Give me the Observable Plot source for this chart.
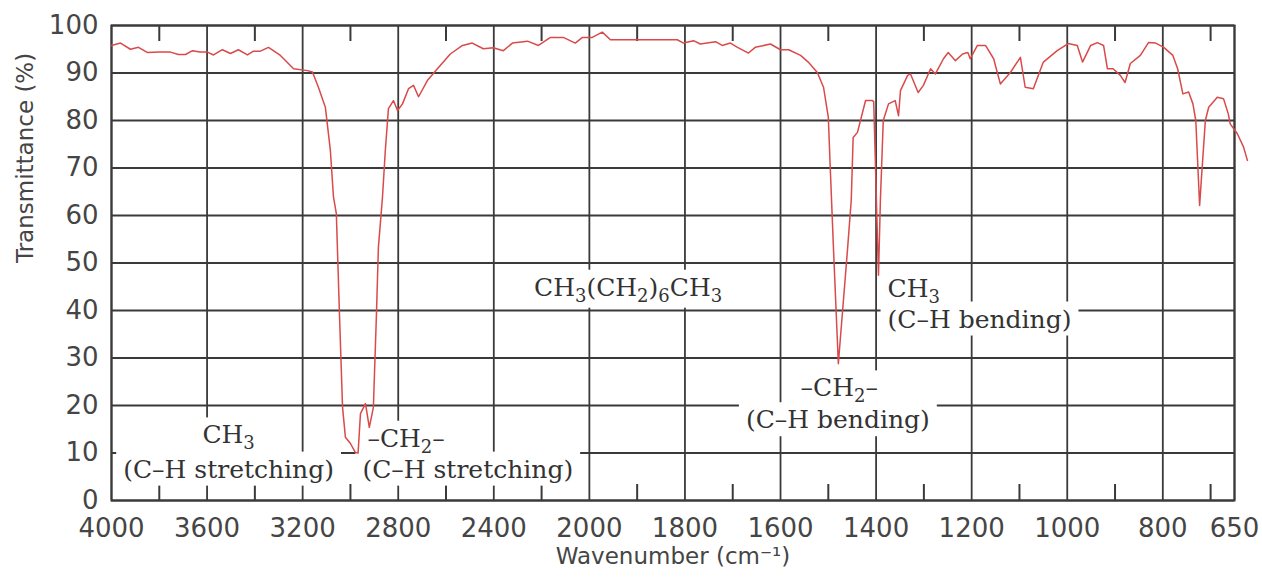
<!DOCTYPE html>
<html>
<head>
<meta charset="utf-8">
<script src="https://cdn.jsdelivr.net/npm/d3@7"></script>
<script src="https://cdn.jsdelivr.net/npm/@observablehq/plot@0.6"></script>
<style>
  html, body { margin: 0; padding: 0; background: #fff; }
  #chart svg { display: block; }
</style>
</head>
<body>
<div id="chart"></div>
<script>
// ---- data (octane, CH3(CH2)6CH3) ----
const wavenumber = [
  4000, 3962, 3921, 3887, 3849, 3800, 3753, 3720, 3690, 3661, 3630, 3598, 3573, 3536, 3502, 3469,
  3431, 3406, 3377, 3343, 3293, 3238, 3180, 3159, 3134, 3105, 3084, 3071, 3059, 3046, 3033, 3021,
  3000, 2979, 2968, 2958, 2937, 2921, 2904, 2891, 2883, 2866, 2854, 2841, 2820, 2803, 2782, 2757,
  2736, 2715, 2678, 2636, 2582, 2531, 2490, 2444, 2402, 2360, 2322, 2259, 2213, 2163, 2109, 2059,
  2029, 1994, 1973, 1956, 1908, 1816, 1803, 1782, 1768, 1736, 1722, 1705, 1690, 1667, 1653, 1621,
  1600, 1583, 1558, 1542, 1523, 1510, 1500, 1496, 1489, 1479, 1460, 1452, 1448, 1439, 1422, 1408,
  1405, 1395, 1391, 1385, 1374, 1360, 1353, 1349, 1334, 1328, 1312, 1301, 1286, 1276, 1259, 1249,
  1234, 1219, 1208, 1203, 1188, 1171, 1154, 1140, 1119, 1098, 1088, 1071, 1050, 1021, 998, 979,
  968, 951, 937, 924, 916, 904, 889, 879, 868, 847, 830, 815, 798, 779, 769, 758,
  746, 737, 731, 723, 711, 704, 686, 673, 663, 659, 644, 631, 623
];
const transmittance = [
  95.8, 96.3, 95.0, 95.4, 94.3, 94.4, 94.4, 93.9, 93.9, 94.7, 94.4, 94.4, 93.8, 94.9, 94.1, 94.9,
  93.8, 94.6, 94.6, 95.4, 93.7, 90.9, 90.5, 90.2, 87.0, 82.8, 73.7, 63.9, 60.4, 39.4, 19.6, 13.3,
  12.0, 10.1, 10.0, 18.3, 20.4, 15.4, 19.6, 39.4, 53.3, 63.8, 73.7, 82.5, 84.2, 82.1, 83.5, 86.7,
  87.4, 85.0, 88.4, 90.9, 94.0, 95.8, 96.3, 95.1, 95.3, 94.7, 96.3, 96.7, 95.8, 97.5, 97.5, 96.3,
  97.5, 97.5, 98.6, 97.0, 97.0, 97.0, 96.3, 96.8, 96.1, 96.6, 95.8, 96.3, 95.4, 94.2, 95.4, 96.1,
  94.9, 94.9, 93.7, 92.3, 90.1, 87.0, 80.7, 70.2, 52.6, 28.8, 52.6, 63.2, 76.4, 77.5, 84.2, 84.2,
  84.0, 47.4, 63.2, 80.0, 83.5, 84.2, 81.0, 86.3, 89.5, 89.8, 85.9, 87.4, 90.9, 89.8, 93.0, 94.3,
  92.6, 94.0, 94.3, 93.0, 95.8, 95.8, 93.0, 87.7, 90.1, 93.3, 87.0, 86.7, 92.3, 94.7, 96.2, 95.8,
  92.3, 95.8, 96.4, 95.8, 90.9, 90.9, 89.5, 88.0, 92.0, 93.7, 96.4, 96.3, 95.4, 93.7, 90.9, 85.6,
  86.0, 83.5, 80.0, 62.1, 80.0, 82.8, 84.9, 84.6, 81.4, 79.3, 77.2, 74.4, 71.6
];

// axis ticks
const xTicks = [4000, 3600, 3200, 2800, 2400, 2000, 1800, 1600, 1400, 1200, 1000, 800, 650];
const xMinorTicks = [3800, 3400, 3000, 2600, 2200, 1900, 1700, 1500, 1300, 1100, 900, 700];
const yTicks = [0, 10, 20, 30, 40, 50, 60, 70, 80, 90, 100];
// x scale breakpoints: 4000–2000 compressed, 2000–650 expanded (2x)
const xBreaks = [4000, 2000, 650];

// annotations ( "_n" marks a subscript )
const centerLabels = ["CH_3", "(C–H stretching)", "CH_3(CH_2)_6CH_3", "–CH_2–", "(C–H bending)"];
const centerWn     = [3510, 3510, 1919, 1477, 1480];
const centerT      = [13.7, 6.5, 44.8, 23.6, 16.9];
const startLabels  = ["–CH_2–", "(C–H stretching)", "CH_3", "(C–H bending)"];
const startWn      = [2929, 2950, 1376, 1376];
const startT       = [13.0, 6.5, 44.6, 38.1];

const xTitle = "Wavenumber (cm⁻¹)";
const yTitle = "Transmittance (%)";

// ---- layout ----
const W = 1262, H = 581;
const mL = 111, mR = 28, mT = 25, mB = 81;
const plotW = W - mL - mR;
const plotH = H - mT - mB;
const minorLen = 16;
const span1 = xBreaks[0] - xBreaks[1];          // compressed part
const span2 = (xBreaks[1] - xBreaks[2]) * 2;    // expanded part (double density)
const xMid = mL + plotW * span1 / (span1 + span2);

const spectrum = wavenumber.map((w, i) => ({w, t: transmittance[i]}));
const cLab = centerLabels.map((s, i) => ({s, w: centerWn[i], t: centerT[i]}));
const sLab = startLabels.map((s, i) => ({s, w: startWn[i], t: startT[i]}));

const gridColor = "#3a3a3a";
const serif = "DejaVu Serif";

const chart = Plot.plot({
  width: W,
  height: H,
  marginLeft: mL,
  marginRight: mR,
  marginTop: mT,
  marginBottom: mB,
  style: {fontFamily: "DejaVu Sans", fontSize: "26px", color: "#454545", background: "#fff"},
  x: {
    type: "linear",
    domain: xBreaks,
    range: [mL, xMid, W - mR],
    ticks: xTicks,
    tickSize: 0,
    tickPadding: 18,
    tickFormat: d => String(d),
    label: null
  },
  y: {
    domain: [0, 100],
    ticks: yTicks,
    tickSize: 0,
    tickPadding: 13,
    tickFormat: d => String(d),
    label: null
  },
  marks: [
    Plot.ruleY(yTicks, {stroke: gridColor, strokeWidth: 1.8}),
    Plot.ruleX(xTicks, {stroke: gridColor, strokeWidth: 1.8}),
    Plot.ruleX(xMinorTicks, {insetBottom: plotH - minorLen, stroke: gridColor, strokeWidth: 2}),
    Plot.ruleX(xMinorTicks, {insetTop: plotH - minorLen, stroke: gridColor, strokeWidth: 2}),
    Plot.frame({stroke: gridColor, strokeWidth: 2}),
    Plot.text(cLab, {x: "w", y: "t", text: "s", textAnchor: "middle", fontFamily: serif, fontSize: 25, fill: "#333"}),
    Plot.text(sLab, {x: "w", y: "t", text: "s", textAnchor: "start", fontFamily: serif, fontSize: 25, fill: "#333"}),
    Plot.line(spectrum, {x: "w", y: "t", stroke: "#d94a4a", strokeWidth: 1.5, curve: "linear"}),
    Plot.text([yTitle], {frameAnchor: "left", lineAnchor: "middle", dx: -86, rotate: -90, fontFamily: "DejaVu Sans", fontSize: 23, fill: "#454545"}),
    Plot.text([xTitle], {frameAnchor: "bottom", lineAnchor: "middle", dy: 56, fontFamily: "DejaVu Sans", fontSize: 23, fill: "#454545"})
  ]
});

document.getElementById("chart").append(chart);

// ---- post-process: subscripts and white label boxes ----
const NS = "http://www.w3.org/2000/svg";
const allLabels = new Set([...centerLabels, ...startLabels]);
const annTexts = [...chart.querySelectorAll("text")].filter(t => allLabels.has(t.textContent));
annTexts.forEach(t => {
  const parts = t.textContent.split(/_(\d)/);
  t.textContent = "";
  let lowered = false;
  parts.forEach((p, i) => {
    if (!p) return;
    const ts = document.createElementNS(NS, "tspan");
    ts.textContent = p;
    if (i % 2 === 1) {
      ts.setAttribute("font-size", "18");
      ts.setAttribute("dy", lowered ? "0" : "6");
      lowered = true;
    } else if (lowered) {
      ts.setAttribute("dy", "-6");
      lowered = false;
    }
    t.appendChild(ts);
  });
});
annTexts.forEach(t => {
  const bb = t.getBBox();
  const r = document.createElementNS(NS, "rect");
  r.setAttribute("x", bb.x - 7);
  r.setAttribute("y", bb.y - 3);
  r.setAttribute("width", bb.width + 14);
  r.setAttribute("height", bb.height + 5);
  r.setAttribute("fill", "#fff");
  const tr = t.getAttribute("transform");
  if (tr) r.setAttribute("transform", tr);
  const g = t.parentNode;
  g.insertBefore(r, g.firstChild);
});
</script>
</body>
</html>
